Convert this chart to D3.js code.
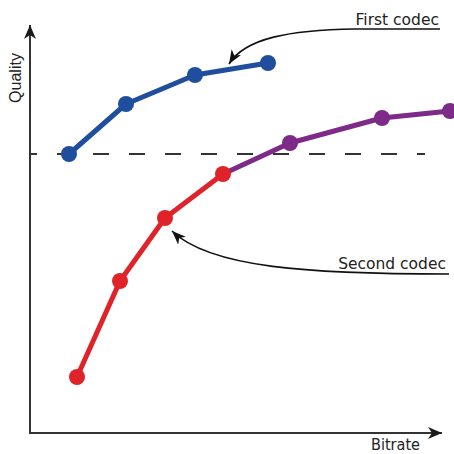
<!DOCTYPE html>
<html><head><meta charset="utf-8">
<script src="https://cdn.jsdelivr.net/npm/d3@7"></script>
<style>html,body{margin:0;padding:0;background:#fff}svg{display:block}</style>
</head><body>
<script>
// Data (arbitrary units: bitrate 0..100, quality 0..100)
const firstBitrate  = [9.75, 24, 41.25, 59.5];
const firstQuality  = [69.75, 82.25, 89.5, 92.5];
const secondBitrateLow  = [11.75, 22.5, 33.75, 48.25];
const secondQualityLow  = [14, 38, 53.75, 64.75];
const secondBitrateHigh = [48.25, 65, 88, 105];
const secondQualityHigh = [64.75, 72.5, 78.75, 80.5];
const thresholdQuality = 69.75;
const labels = {x: "Bitrate", y: "Quality", first: "First codec", second: "Second codec"};

const W = 454, H = 454;
const svg = d3.select("body").append("svg").attr("width", W).attr("height", H);
const x = d3.scaleLinear().domain([0, 100]).range([30, 430]);
const y = d3.scaleLinear().domain([0, 100]).range([433, 33]);

const defs = svg.append("defs");
defs.append("marker").attr("id", "axArrow").attr("viewBox", "-14 -6 16 12")
  .attr("refX", 0).attr("refY", 0).attr("markerWidth", 16).attr("markerHeight", 12)
  .attr("markerUnits", "userSpaceOnUse").attr("orient", "auto")
  .append("path").attr("d", "M0,0 L-14,-6 L-10,0 L-14,6 Z").attr("fill", "#1a1a1a");
defs.append("marker").attr("id", "annArrow").attr("viewBox", "-14 -6 16 12")
  .attr("refX", 0).attr("refY", 0).attr("markerWidth", 16).attr("markerHeight", 12)
  .attr("markerUnits", "userSpaceOnUse").attr("orient", "auto")
  .append("path").attr("d", "M0,0 L-14,-5.5 L-10,0 L-14,5.5 Z").attr("fill", "#111");

// Axes
const x0 = x(0), y0 = y(0);
svg.append("line").attr("x1", x0).attr("y1", y0).attr("x2", x0).attr("y2", 25)
  .attr("stroke", "#333").attr("stroke-width", 2).attr("marker-end", "url(#axArrow)");
svg.append("line").attr("x1", x0 - 1).attr("y1", y0).attr("x2", 442).attr("y2", y0)
  .attr("stroke", "#333").attr("stroke-width", 2).attr("marker-end", "url(#axArrow)");

// Threshold dashed line
svg.append("line").attr("x1", x0).attr("x2", 425)
  .attr("y1", y(thresholdQuality)).attr("y2", y(thresholdQuality))
  .attr("stroke", "#333").attr("stroke-width", 2)
  .attr("stroke-dasharray", "16,20").attr("stroke-dashoffset", 9);

function series(bx, qy, color, skipFirstDot){
  const pts = bx.map((b, i) => [b, qy[i]]);
  const line = d3.line().x(d => x(d[0])).y(d => y(d[1]));
  svg.append("path").datum(pts).attr("d", line).attr("fill", "none")
    .attr("stroke", color).attr("stroke-width", 5).attr("stroke-linejoin", "round");
  svg.selectAll(null).data(skipFirstDot ? pts.slice(1) : pts).enter().append("circle")
    .attr("cx", d => x(d[0])).attr("cy", d => y(d[1])).attr("r", 8).attr("fill", color);
}
series(secondBitrateHigh, secondQualityHigh, "#7d2a88", true);
series(secondBitrateLow, secondQualityLow, "#e0222a", false);
series(firstBitrate, firstQuality, "#1f4e9c", false);

// Annotations
const txt = "#222";
svg.append("text").attr("x", 439).attr("y", 25).attr("text-anchor", "end")
  .attr("font-family", "DejaVu Sans").attr("font-size", 15.5).attr("fill", txt).text(labels.first);
const f = [x(firstBitrate[2]) + 34, y(firstQuality[2]) - 11];
svg.append("path").attr("d", `M440,29 L355,29 C290,30 245,38 ${f[0]},${f[1]}`)
  .attr("fill", "none").attr("stroke", "#111").attr("stroke-width", 1.6).attr("marker-end", "url(#annArrow)");

svg.append("text").attr("x", 446).attr("y", 269).attr("text-anchor", "end")
  .attr("font-family", "DejaVu Sans").attr("font-size", 15.5).attr("fill", txt).text(labels.second);
const s = [x(secondBitrateLow[2]) + 7, y(secondQualityLow[2]) + 13];
svg.append("path").attr("d", `M449,274 C310,274 210,268 ${s[0]},${s[1]}`)
  .attr("fill", "none").attr("stroke", "#111").attr("stroke-width", 1.6).attr("marker-end", "url(#annArrow)");

svg.append("text").attr("x", 371).attr("y", 450)
  .attr("font-family", "DejaVu Sans").attr("font-size", 16).attr("fill", txt)
  .attr("textLength", 49).attr("lengthAdjust", "spacingAndGlyphs").text(labels.x);
svg.append("text").attr("transform", "translate(21,78) rotate(-90)").attr("text-anchor", "middle")
  .attr("font-family", "Liberation Sans").attr("font-size", 16).attr("fill", txt).text(labels.y);
</script>
</body></html>
